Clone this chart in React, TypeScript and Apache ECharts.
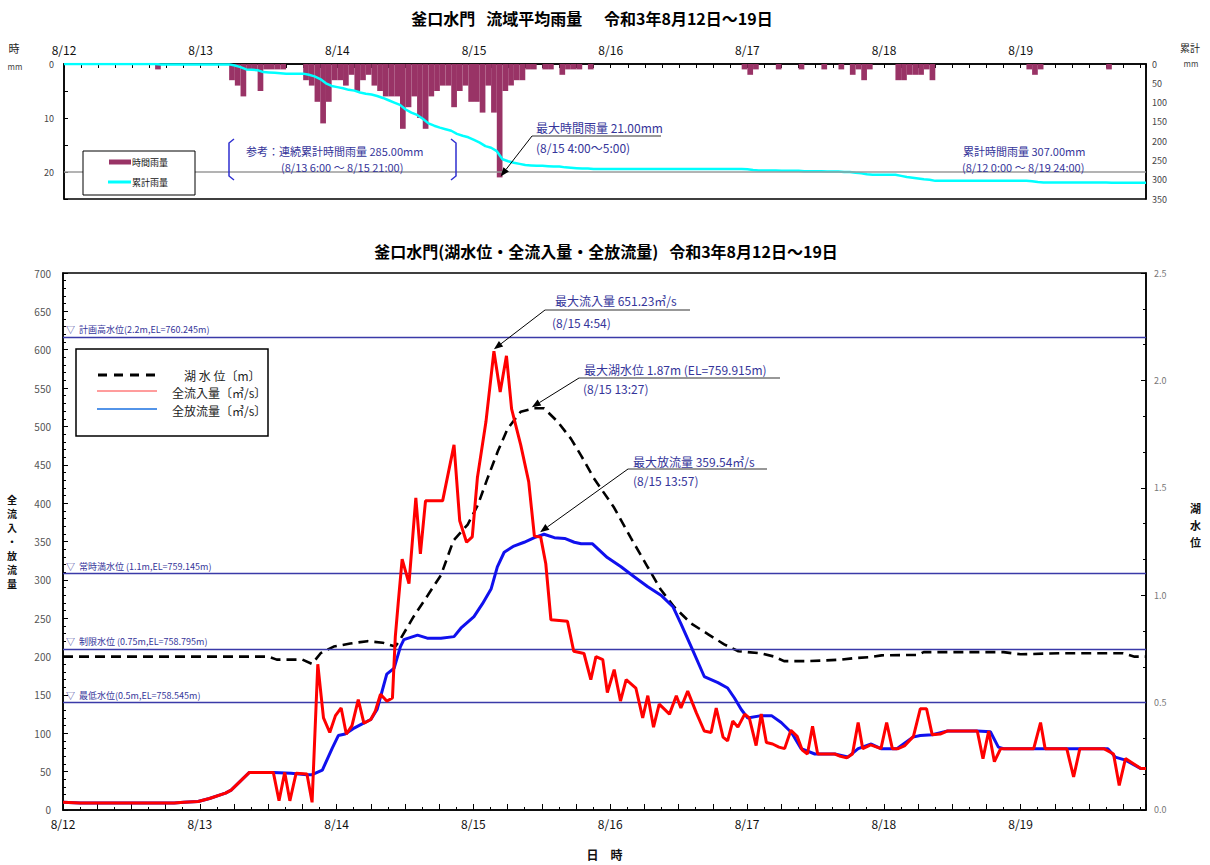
import React, { useEffect, useRef } from "react";
import * as echarts from "echarts";

const START_DAY = 12;
const X_MAX = 190; // hours from 8/12 0:00

// hourly rainfall [hour index from 8/12 0:00, mm]
const hourlyRain: [number, number][] = [
  [16, 1],
  [29, 3], [30, 4], [31, 6], [32, 1], [33, 1], [34, 5], [35, 1], [36, 1], [37, 1], [38, 1],
  [42, 3], [43, 4], [44, 7], [45, 11], [46, 7], [47, 3],
  [48, 3], [49, 4], [50, 2], [51, 5], [52, 3], [53, 2], [54, 4], [55, 5], [56, 6], [57, 6],
  [58, 6], [59, 12], [60, 8], [61, 6], [62, 10], [63, 12], [64, 6], [65, 5], [66, 4], [67, 4],
  [68, 8], [69, 5], [70, 4], [71, 7], [72, 7], [73, 9], [74, 4], [75, 9], [76, 21],
  [77, 5], [78, 4], [79, 3], [80, 3], [81, 1], [82, 1], [84, 1], [85, 1], [87, 2], [88, 1],
  [89, 1], [90, 1], [92, 1],
  [119, 1], [120, 2], [121, 1], [125, 1], [129, 1], [133, 1], [136, 1], [138, 2], [139, 1],
  [140, 3], [141, 1], [146, 3], [147, 3], [148, 2], [149, 2], [150, 2], [151, 1], [152, 3],
  [169, 1], [170, 2], [171, 1], [183, 1],
];

// total inflow (m3/s) [hour, value]
const inflow: [number, number][] = [
  [0, 10], [3, 9], [19.5, 9], [21.2, 10], [23.7, 11], [25.7, 15], [28.5, 22], [29.5, 26],
  [32.7, 49], [36.9, 49], [37.9, 12], [38.9, 49], [39.8, 12], [40.9, 48], [42.8, 47],
  [43.7, 10], [44.7, 190], [45.7, 120], [46.8, 101], [47.8, 123], [48.8, 133], [49.7, 99],
  [50.7, 110], [51.8, 144], [52.8, 113], [54, 118], [54.8, 129], [55.7, 151], [56.8, 142],
  [57.8, 146], [58.3, 226], [58.8, 269], [59.5, 327], [60.7, 295], [61.9, 407], [62.7, 334],
  [63.6, 403], [66.6, 403], [68.6, 476], [69.6, 377], [70.8, 349], [71.8, 356], [72.7, 433],
  [74.2, 506], [75.6, 598], [76.7, 545], [77.8, 592], [78.7, 523], [80.3, 476], [81.7, 428],
  [82.7, 357], [83.8, 356], [84.7, 321], [85.6, 248], [88.5, 246], [89.6, 207], [91.4, 204],
  [92.6, 170], [93.5, 200], [94.7, 196], [95.5, 153], [96.7, 183], [97.8, 142], [98.8, 170],
  [100.5, 159], [101.7, 120], [102.6, 149], [103.6, 108], [104.6, 138], [106.4, 125],
  [107.6, 149], [108.4, 133], [109.6, 155], [111.1, 127], [112.5, 103], [113.7, 101],
  [114.6, 133], [115.8, 95], [116.6, 90], [117.5, 116], [118.4, 108], [119.6, 125],
  [120.4, 120], [121.6, 84], [122.5, 125], [123.4, 88], [124.5, 86], [125.6, 82], [126.6, 80],
  [127.7, 104], [128.8, 96], [129.7, 78], [130.6, 73], [131.5, 109], [132.4, 73], [135.4, 73],
  [136.4, 70], [137.5, 68], [138.5, 73], [139.5, 114], [140.3, 80], [141.7, 85], [143.5, 80],
  [144.5, 114], [145.5, 80], [146.5, 80], [147.7, 84], [149.2, 96], [150.4, 132], [151.5, 132],
  [152.5, 98], [153.9, 99], [155.2, 103], [160.4, 103], [161.4, 67], [162.4, 103], [163.4, 63],
  [164.5, 80], [170.3, 80], [171.5, 114], [172.3, 80], [176.1, 80], [177.3, 43], [178.4, 80],
  [182.6, 80], [184.3, 73], [185.3, 32], [186.4, 67], [189.1, 54], [190, 54],
];

// total outflow (m3/s) [hour, value]
const outflow: [number, number][] = [
  [0, 10], [3, 9], [19.5, 9], [21.2, 10], [23.7, 11], [25.7, 15], [28.5, 22], [29.5, 26],
  [32.7, 49], [36.9, 49], [40, 48], [42.8, 46], [43.7, 46], [45.5, 52], [47.2, 80], [48.3, 97],
  [49.5, 99], [50.9, 106], [52.4, 112], [54, 118], [55.1, 131], [56.8, 177], [58.1, 185],
  [59.2, 213], [59.8, 222], [62.2, 228], [63.9, 224], [66.3, 224], [68.6, 226], [69.8, 237],
  [72.1, 252], [73.6, 269], [75.1, 288], [76.2, 317], [77.4, 336], [79.1, 344], [80.9, 349],
  [82.7, 355], [84.4, 359.5], [86.2, 355], [88, 354], [89.7, 349], [90.9, 347], [92.9, 347],
  [95.5, 329], [97.9, 317], [100.2, 304], [102.6, 291], [104.9, 280], [107, 265], [108.4, 243],
  [110.2, 213], [112.5, 174], [114.9, 166], [116.6, 159], [117.8, 146], [119, 131], [120.1, 120],
  [122.5, 123], [124.3, 123], [126, 114], [127.8, 101], [129.5, 80], [131.9, 73], [135.4, 73],
  [137.7, 69], [139.5, 80], [141.8, 86], [143.5, 80], [146.3, 80], [149.1, 95], [150.4, 97],
  [152.5, 98], [155.2, 103], [160.4, 103], [162.7, 102], [164.1, 82], [165, 80], [183.3, 80],
  [184.6, 69], [186.4, 65], [189.1, 54], [190, 54],
];

// lake level (m) [hour, value]
const lakeLevel: [number, number][] = [
  [0, 0.714], [36, 0.714], [37.5, 0.7], [42, 0.7], [43.7, 0.68], [45.2, 0.73], [47.5, 0.761],
  [50.4, 0.775], [53.4, 0.786], [56.1, 0.779], [58.3, 0.761], [59.2, 0.796], [61.5, 0.9],
  [64, 1.0], [66.3, 1.093], [68.5, 1.254], [71, 1.329], [72.8, 1.421], [74.5, 1.546],
  [76.3, 1.671], [78, 1.775], [80.3, 1.854], [82.6, 1.87], [84.4, 1.87], [86.8, 1.807],
  [89.1, 1.729], [90.9, 1.65], [93.1, 1.546], [96.7, 1.407], [99.6, 1.268], [102.6, 1.13],
  [104.9, 1.025], [107.2, 0.946], [110.2, 0.868], [113.2, 0.818], [116, 0.771], [118.5, 0.739],
  [122.5, 0.729], [124.8, 0.714], [126.5, 0.693], [130.8, 0.693], [136.6, 0.7], [138.8, 0.707],
  [141.3, 0.711], [143.6, 0.72], [150, 0.722], [151, 0.735], [165, 0.735], [168, 0.725],
  [175, 0.73], [186, 0.73], [188, 0.714], [190, 0.714],
];

const levelLines: { value: number; label: string }[] = [
  { value: 2.2, label: "▽  計画高水位(2.2m,EL=760.245m)" },
  { value: 1.1, label: "▽  常時満水位 (1.1m,EL=759.145m)" },
  { value: 0.75, label: "▽  制限水位 (0.75m,EL=758.795m)" },
  { value: 0.5, label: "▽  最低水位(0.5m,EL=758.545m)" },
];

const FONT = '"Noto Sans CJK JP", "Noto Sans", sans-serif';
const NAVY = "#35359a";

const dayFmt = (v: number) => (v % 24 === 0 ? `8/${START_DAY + v / 24}` : "");

function txt(x: number, y: number, text: string, size = 12, fill = NAVY, align = "left", weight = "normal") {
  return {
    type: "text",
    x,
    y,
    z: 120,
    style: {
      text,
      fill,
      font: `${weight} ${size}px ${FONT}`,
      textAlign: align,
      textVerticalAlign: "middle",
      align,
      verticalAlign: "middle",
    },
  };
}

function line(x1: number, y1: number, x2: number, y2: number, stroke = "#000", lineWidth = 1, lineDash?: number[]) {
  return {
    type: "line",
    z: 120,
    shape: { x1, y1, x2, y2 },
    style: { stroke, lineWidth, lineDash },
  };
}

function arrow(x1: number, y1: number, x2: number, y2: number) {
  const dx = x2 - x1;
  const dy = y2 - y1;
  const L = Math.hypot(dx, dy);
  const ux = dx / L;
  const uy = dy / L;
  const hl = 9;
  const hw = 3.5;
  const bx = x2 - ux * hl;
  const by = y2 - uy * hl;
  return [
    line(x1, y1, bx, by, "#000", 1),
    {
      type: "polygon",
      z: 120,
      shape: { points: [[x2, y2], [bx - uy * hw, by + ux * hw], [bx + uy * hw, by - ux * hw]] },
      style: { fill: "#000" },
    },
  ];
}

export default function App() {
  const ref = useRef<HTMLDivElement>(null);

  useEffect(() => {
    if (!ref.current) return;
    const chart = echarts.init(ref.current, null, { renderer: "svg" });

    const rainByHour: number[] = new Array(X_MAX + 2).fill(0);
    hourlyRain.forEach(([h, v]) => {
      rainByHour[h] = v;
    });
    const cumulative: [number, number][] = [[0, 0]];
    let cum = 0;
    for (let h = 0; h < X_MAX; h++) {
      cum += rainByHour[h];
      cumulative.push([h + 1, cum]);
    }

    const option: any = {
      animation: false,
      textStyle: { fontFamily: FONT },
      grid: [
        { left: 64, top: 64, width: 1082, height: 135, show: true, borderColor: "#000", borderWidth: 1.5, backgroundColor: "transparent" },
        { left: 63, top: 273, width: 1083, height: 542, show: true, borderColor: "#000", borderWidth: 1.5, backgroundColor: "transparent" },
      ],
      xAxis: [
        {
          type: "value",
          gridIndex: 0,
          position: "top",
          min: 0,
          max: X_MAX,
          interval: 3,
          axisLine: { lineStyle: { color: "#000", width: 1.5 } },
          axisTick: { inside: true, length: 4, lineStyle: { color: "#000" } },
          axisLabel: { formatter: dayFmt, color: "#111", fontSize: 12, margin: 9, fontFamily: FONT },
          splitLine: { show: false },
        },
        {
          type: "value",
          gridIndex: 1,
          min: 0,
          max: X_MAX,
          interval: 6,
          axisLine: { lineStyle: { color: "#000", width: 1.5 } },
          axisTick: { inside: true, length: 6, lineStyle: { color: "#000" } },
          minorTick: { show: true, splitNumber: 2, length: 3, lineStyle: { color: "#000" } },
          axisLabel: { formatter: dayFmt, color: "#111", fontSize: 12, margin: 7, fontFamily: FONT },
          splitLine: { show: false },
          name: "日　時",
          nameLocation: "middle",
          nameGap: 38,
          nameTextStyle: { fontSize: 12, color: "#111", fontWeight: "bold", fontFamily: FONT },
        },
      ],
      yAxis: [
        {
          type: "value",
          gridIndex: 0,
          inverse: true,
          min: 0,
          max: 25,
          interval: 5,
          axisLine: { show: true, lineStyle: { color: "#000", width: 1.5 } },
          axisTick: { inside: true, length: 4, lineStyle: { color: "#000" } },
          axisLabel: { formatter: (v: number) => (v % 10 === 0 ? String(v) : ""), fontSize: 9, color: "#444", margin: 10 },
          splitLine: { show: false },
        },
        {
          type: "value",
          gridIndex: 0,
          inverse: true,
          position: "right",
          min: 0,
          max: 350,
          interval: 50,
          axisLine: { show: true, lineStyle: { color: "#000", width: 1.5 } },
          axisTick: { show: false },
          axisLabel: { fontSize: 9, color: "#444", margin: 6 },
          splitLine: { show: false },
        },
        {
          type: "value",
          gridIndex: 1,
          min: 0,
          max: 700,
          interval: 50,
          axisLine: { show: true, lineStyle: { color: "#000", width: 1.5 } },
          axisTick: { inside: true, length: 5, lineStyle: { color: "#000" } },
          minorTick: { show: true, splitNumber: 5, length: 3, lineStyle: { color: "#000" } },
          axisLabel: { fontSize: 10, color: "#555", margin: 12 },
          splitLine: { show: false },
          name: "全\n流\n入\n・\n放\n流\n量",
          nameLocation: "middle",
          nameRotate: 0,
          nameGap: 46,
          nameTextStyle: { fontSize: 10, color: "#111", fontWeight: "bold", lineHeight: 14, fontFamily: FONT },
        },
        {
          type: "value",
          gridIndex: 1,
          position: "right",
          min: 0,
          max: 2.5,
          interval: 0.5,
          axisLine: { show: true, lineStyle: { color: "#000", width: 1.5 } },
          axisTick: { inside: true, length: 5, lineStyle: { color: "#000" } },
          minorTick: { show: true, splitNumber: 3, length: 3, lineStyle: { color: "#000" } },
          axisLabel: { formatter: (v: number) => v.toFixed(1), fontSize: 9, color: "#777", margin: 8 },
          splitLine: { show: false },
          name: "湖\n水\n位\n\n",
          nameLocation: "middle",
          nameRotate: 0,
          nameGap: 44,
          nameTextStyle: { fontSize: 11, color: "#111", fontWeight: "bold", lineHeight: 17, fontFamily: FONT },
        },
      ],
      series: [
        {
          name: "時間雨量",
          type: "bar",
          xAxisIndex: 0,
          yAxisIndex: 0,
          barWidth: 5.7,
          itemStyle: { color: "#993366" },
          data: hourlyRain.map(([h, v]) => [h + 0.5, v]),
          markLine: {
            silent: true,
            symbol: "none",
            label: { show: false },
            lineStyle: { color: "#9a9a9a", width: 1.5, type: "solid" },
            data: [{ yAxis: 20 }],
          },
          z: 2,
        },
        {
          name: "累計雨量",
          type: "line",
          xAxisIndex: 0,
          yAxisIndex: 1,
          showSymbol: false,
          symbol: "none",
          lineStyle: { color: "#00ffff", width: 2.5 },
          data: cumulative,
          z: 3,
        },
        {
          name: "湖水位",
          type: "line",
          xAxisIndex: 1,
          yAxisIndex: 3,
          symbol: "none",
          lineStyle: { color: "#000", width: 2.6, type: [10, 6] },
          data: lakeLevel,
          z: 4,
          markLine: {
            silent: true,
            symbol: "none",
            lineStyle: { color: "#3a3aa8", width: 1.3, type: "solid" },
            label: {
              show: true,
              position: "insideStartTop",
              color: NAVY,
              fontSize: 9,
              fontFamily: FONT,
              distance: 3,
            },
            data: levelLines.map((l) => ({ yAxis: l.value, label: { formatter: l.label } })),
          },
        },
        {
          name: "全放流量",
          type: "line",
          xAxisIndex: 1,
          yAxisIndex: 2,
          symbol: "none",
          lineStyle: { color: "#1010ee", width: 3 },
          data: outflow,
          z: 5,
        },
        {
          name: "全流入量",
          type: "line",
          xAxisIndex: 1,
          yAxisIndex: 2,
          symbol: "none",
          lineStyle: { color: "#ff0000", width: 3 },
          data: inflow,
          z: 6,
        },
      ],
    };
    chart.setOption(option);

    const px = (xi: number, yi: number, pt: [number, number]) =>
      chart.convertToPixel({ xAxisIndex: xi, yAxisIndex: yi } as any, pt) as number[];

    const maxOf = (arr: [number, number][]) => arr.reduce((a, b) => (b[1] > a[1] ? b : a), arr[0]);
    const rainPeak = maxOf(hourlyRain);
    const inPeak = maxOf(inflow);
    const outPeak = maxOf(outflow);
    const lakePeak = maxOf(lakeLevel);

    const pRain = px(0, 0, [rainPeak[0] + 0.5, rainPeak[1]]);
    const pIn = px(1, 2, inPeak);
    const pOut = px(1, 2, outPeak);
    const pLake = px(1, 3, lakePeak);

    const graphic: any[] = [
      txt(592, 18, "釜口水門   流域平均雨量      令和3年8月12日～19日", 16, "#000", "center", "bold"),
      txt(606, 251, "釜口水門(湖水位・全流入量・全放流量)   令和3年8月12日～19日", 16, "#000", "center", "bold"),
      txt(14, 48, "時", 11, "#222", "center"),
      txt(15, 66, "mm", 8, "#444", "center"),
      txt(1190, 47, "累計", 10, "#222", "center"),
      txt(1191, 63, "mm", 8, "#444", "center"),
      // top legend
      { type: "rect", z: 110, shape: { x: 83, y: 151, width: 112, height: 44 }, style: { fill: "#fff", stroke: "#000", lineWidth: 1 } },
      { type: "rect", z: 120, shape: { x: 109, y: 159.5, width: 22, height: 5 }, style: { fill: "#993366" } },
      txt(132, 162, "時間雨量", 9, "#111"),
      line(108, 182, 131, 182, "#00ffff", 3),
      txt(132, 182, "累計雨量", 9, "#111"),
      // reference bracket
      { type: "polyline", z: 120, shape: { points: [[234, 139], [229, 143], [229, 176], [234, 180]] }, style: { stroke: "#2f2fd0", lineWidth: 1.5, fill: null } },
      { type: "polyline", z: 120, shape: { points: [[451, 139], [456, 143], [456, 176], [451, 180]] }, style: { stroke: "#2f2fd0", lineWidth: 1.5, fill: null } },
      txt(246, 151, "参考：連続累計時間雨量 285.00mm", 11),
      txt(281, 167, "(8/13 6:00 ～ 8/15 21:00)", 11),
      // max hourly rain
      txt(536, 127, "最大時間雨量 21.00mm", 12),
      line(532, 136, 661, 136, "#333", 1.2),
      txt(536, 147, "(8/15 4:00～5:00)", 12),
      ...arrow(532, 136, pRain[0] + 1, pRain[1] - 1),
      // total
      txt(963, 151, "累計時間雨量 307.00mm", 11),
      txt(962, 167, "(8/12 0:00 ～ 8/19 24:00)", 11),
      // bottom legend
      { type: "rect", z: 110, shape: { x: 76, y: 349, width: 192, height: 87 }, style: { fill: "#fff", stroke: "#000", lineWidth: 1.5 } },
      line(98, 375, 158, 375, "#000", 3, [9, 7]),
      txt(184, 375, "湖 水 位〔m〕", 12, "#222"),
      line(97, 391, 157, 391, "#ff3b3b", 1),
      txt(172, 392, "全流入量〔㎥/s〕", 12, "#222"),
      line(97, 409, 157, 409, "#1a70e0", 1.5),
      txt(172, 410, "全放流量〔㎥/s〕", 12, "#222"),
      // inflow max
      txt(555, 300, "最大流入量 651.23㎥/s", 12),
      line(545, 310, 690, 310, "#333", 1.2),
      txt(552, 322, "(8/15 4:54)", 12),
      ...arrow(545, 310, pIn[0], pIn[1] - 2),
      // lake max
      txt(584, 369, "最大湖水位 1.87m (EL=759.915m)", 12),
      line(579, 378, 780, 378, "#333", 1.2),
      txt(583, 388, "(8/15 13:27)", 12),
      ...arrow(579, 378, pLake[0] - 2, pLake[1] - 1),
      // outflow max
      txt(633, 461, "最大放流量 359.54㎥/s", 12),
      line(628, 469, 767, 469, "#333", 1.2),
      txt(633, 480, "(8/15 13:57)", 12),
      ...arrow(628, 469, pOut[0] - 4, pOut[1] - 2),
    ];
    chart.setOption({ graphic });

    return () => chart.dispose();
  }, []);

  return (
    <div
      ref={ref}
      style={{ position: "absolute", left: 0, top: 0, width: 1210, height: 865, background: "#fff" }}
    />
  );
}
